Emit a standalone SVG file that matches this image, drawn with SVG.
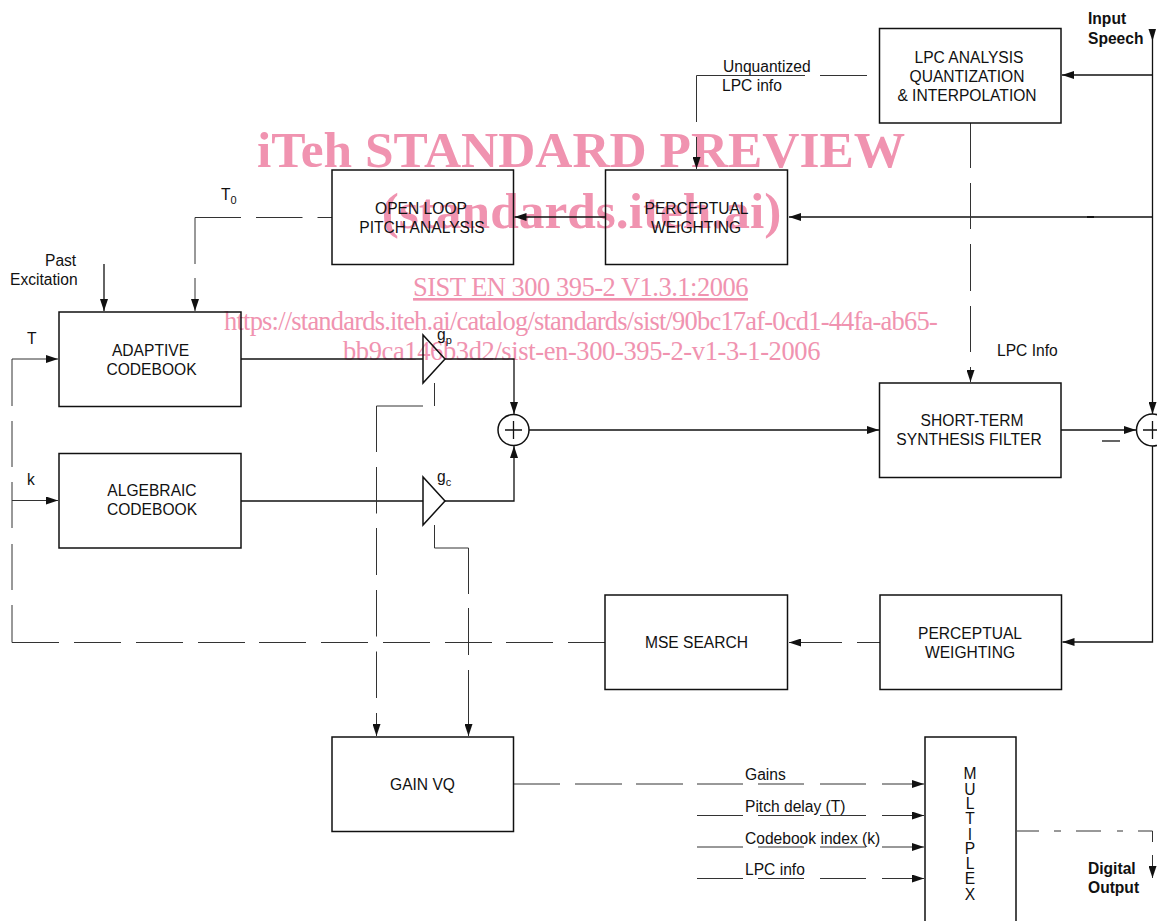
<svg xmlns="http://www.w3.org/2000/svg" width="1157" height="921" viewBox="0 0 1157 921">
<style>
text{font-family:"Liberation Sans",Arial,sans-serif;font-size:15.6px;fill:#111}
.m{text-anchor:middle}
.b{font-weight:bold}
.s{font-size:11px}
.box{fill:none;stroke:#111;stroke-width:1.5}
.w{font-family:"Liberation Serif","Times New Roman",serif;fill:#f093b0;text-anchor:middle;font-size:26.5px}
.w1{font-size:51.4px;font-weight:bold}
.l{fill:none;stroke:#111;stroke-width:1.3}
.t{fill:none;stroke:#333;stroke-width:1}
</style>
<defs>
<marker id="a" markerUnits="userSpaceOnUse" markerWidth="13" markerHeight="8" refX="12" refY="4" orient="auto"><path d="M0 0L12 4L0 8Z" fill="#111"/></marker>
</defs>
<g id="watermark">
<text class="w w1" x="581" y="167">iTeh STANDARD PREVIEW</text>
<text class="w w1" x="581.5" y="228">(standards.iteh.ai)</text>
<text class="w" x="580.5" y="296" style="letter-spacing:-0.5px;text-decoration:underline">SIST EN 300 395-2 V1.3.1:2006</text>
<text class="w" x="580.5" y="330" style="letter-spacing:-0.8px">https://standards.iteh.ai/catalog/standards/sist/90bc17af-0cd1-44fa-ab65-</text>
<text class="w" x="581.5" y="360" style="letter-spacing:-0.38px">bb9ca146b3d2/sist-en-300-395-2-v1-3-1-2006</text>
</g>
<g id="connectors">
<path class="l" marker-end="url(#a)" d="M1152.500 75H1062"/>
<path class="l" marker-end="url(#a)" d="M1152.500 217H789"/>
<path class="l" marker-end="url(#a)" d="M605 217H514.500"/>
<path d="M1087 217H1094" stroke="#111" stroke-width="2"/>
<path d="M1148.500 29H1156L1152.500 41Z" fill="#111"/>
<path class="l" marker-end="url(#a)" d="M1152.500 29V414"/>
<path class="l" marker-end="url(#a)" d="M1152.500 446V642H1062.500"/>
<path class="l" marker-end="url(#a)" d="M1061 430H1136"/>
<path class="l" marker-end="url(#a)" d="M529 430H879"/>
<path class="l" d="M241 359H423"/>
<path class="l" d="M241 501H423"/>
<path class="l" marker-end="url(#a)" d="M445 359H514V414"/>
<path class="l" marker-end="url(#a)" d="M445 501H514V446"/>
<path class="l" marker-end="url(#a)" d="M104 264V311"/>
<path class="t" d="M867 75.500H820M805 75.500H696.500V122"/>
<path class="t" marker-end="url(#a)" d="M696.500 137V169"/>
<path class="t" d="M970.500 123V168M970.500 183V229M970.500 244V291M970.500 306V352"/>
<path class="t" marker-end="url(#a)" d="M970.500 367V382"/>
<path class="t" d="M332 217.500H317.500M302.500 217.500H256M241 217.500H195V264"/>
<path class="t" marker-end="url(#a)" d="M195 278V311"/>
<path class="t" marker-end="url(#a)" d="M12 406V359H58"/>
<path class="t" d="M12 421V467M12 482V528M12 544V590M12 605V642.500H59M74 642.500H121M136 642.500H183M198 642.500H245M259 642.500H306M321 642.500H368M383 642.500H430M445 642.500H492M506 642.500H553M568 642.500H605"/>
<path class="t" marker-end="url(#a)" d="M12 500.500H58"/>
<path class="t" d="M434.500 383V406M423 406H376.500V452M376.500 467V513.500M376.500 528V575M376.500 590V636.500M376.500 651.500V698"/>
<path class="t" marker-end="url(#a)" d="M376.500 713V736"/>
<path class="t" d="M434.500 525V548H468.500V594M468.500 608V655"/>
<path class="t" marker-end="url(#a)" d="M468.500 670V736"/>
<path class="t" d="M880 642.500H857"/>
<path class="t" marker-end="url(#a)" d="M842 642.500H789"/>
<path class="t" d="M514 784H560M575 784H622M636 784H683M697 784H743M758 784H804M820 784H866"/>
<path class="t" marker-end="url(#a)" d="M882 784H924"/>
<path class="t" d="M697 815.500H743M758 815.500H804M820 815.500H866"/>
<path class="t" marker-end="url(#a)" d="M882 815.500H924"/>
<path class="t" d="M697 847H743M758 847H804M820 847H866"/>
<path class="t" marker-end="url(#a)" d="M882 847H924"/>
<path class="t" d="M697 878.500H743M758 878.500H804M820 878.500H866"/>
<path class="t" marker-end="url(#a)" d="M882 878.500H924"/>
<path class="t" d="M1017 831H1039M1054 831H1061M1076 831H1101M1117 831H1123M1138 831H1152.500V842"/>
<path class="t" marker-end="url(#a)" d="M1152.500 855V878"/>
<path class="l" d="M1102 441H1120"/>
</g>
<g id="lpc"><rect class="box" x="879.5" y="28.5" width="181.5" height="94.5"/><text class="m" x="969" y="63">LPC ANALYSIS</text><text class="m" x="967" y="82">QUANTIZATION</text><text class="m" x="967" y="101">&amp; INTERPOLATION</text></g>
<g id="pw1"><rect class="box" x="605.5" y="170" width="182" height="94.5"/><text class="m" x="696.500" y="213.500">PERCEPTUAL</text><text class="m" x="696" y="232.500">WEIGHTING</text></g>
<g id="olpa"><rect class="box" x="332" y="170" width="181.500" height="94.500"/><text class="m" x="421" y="213.500">OPEN LOOP</text><text class="m" x="422" y="232.500">PITCH ANALYSIS</text></g>
<g id="adaptive"><rect class="box" x="59" y="312" width="182" height="94.500"/><text class="m" x="150.500" y="355.500">ADAPTIVE</text><text class="m" x="151.500" y="374.500">CODEBOOK</text></g>
<g id="algebraic"><rect class="box" x="59" y="453.500" width="182" height="94.500"/><text class="m" x="152" y="495.500">ALGEBRAIC</text><text class="m" x="152" y="514.500">CODEBOOK</text></g>
<g id="stsf"><rect class="box" x="879.500" y="383" width="181.500" height="94.500"/><text class="m" x="972" y="426">SHORT-TERM</text><text class="m" x="969" y="445">SYNTHESIS FILTER</text></g>
<g id="pw2"><rect class="box" x="880" y="595" width="181.500" height="94.500"/><text class="m" x="970" y="638.500">PERCEPTUAL</text><text class="m" x="970" y="657.500">WEIGHTING</text></g>
<g id="mse"><rect class="box" x="605" y="595" width="182.500" height="94.500"/><text class="m" x="696.500" y="648">MSE SEARCH</text></g>
<g id="gainvq"><rect class="box" x="332" y="737" width="181.500" height="94.500"/><text class="m" x="422.500" y="790">GAIN VQ</text></g>
<g id="mux"><path class="box" d="M925 925V737H1016V925"/>
<text class="m" x="970" y="779">M</text><text class="m" x="970" y="795">U</text><text class="m" x="970" y="809">L</text><text class="m" x="970" y="824">T</text><text class="m" x="970" y="840">I</text><text class="m" x="970" y="854">P</text><text class="m" x="970" y="869">L</text><text class="m" x="970" y="884">E</text><text class="m" x="970" y="900">X</text></g>
<g id="sum1"><circle cx="513.500" cy="430" r="15.500" fill="#fff" stroke="#111" stroke-width="1.500"/><path class="l" d="M505 430H522M513.500 421V439"/></g>
<g id="sum2"><circle cx="1152.500" cy="430" r="16" fill="#fff" stroke="#111" stroke-width="1.500"/><path class="l" d="M1143 430H1157M1152.500 421V439"/></g>
<g id="gp"><path class="box" d="M423 335V383L445 359Z"/></g>
<g id="gc"><path class="box" d="M423 477V525L445 501Z"/></g>
<g id="labels">
<text x="1088" y="24" class="b">Input</text><text x="1088" y="44" class="b">Speech</text>
<text x="723" y="72">Unquantized</text><text x="722" y="91">LPC info</text>
<text x="221" y="200">T<tspan dy="4" class="s">0</tspan></text>
<text x="45" y="266">Past</text><text x="10" y="285">Excitation</text>
<text x="27" y="344">T</text><text x="27" y="485">k</text>
<text x="437" y="340">g<tspan dy="4" class="s">p</tspan></text>
<text x="437" y="482">g<tspan dy="4" class="s">c</tspan></text>
<text x="997" y="356">LPC Info</text>
<text x="745" y="780">Gains</text><text x="745" y="812">Pitch delay (T)</text><text x="745" y="844">Codebook index (k)</text><text x="745" y="875">LPC info</text>
<text x="1088" y="874" class="b">Digital</text><text x="1088" y="893" class="b">Output</text>
</g>
</svg>
